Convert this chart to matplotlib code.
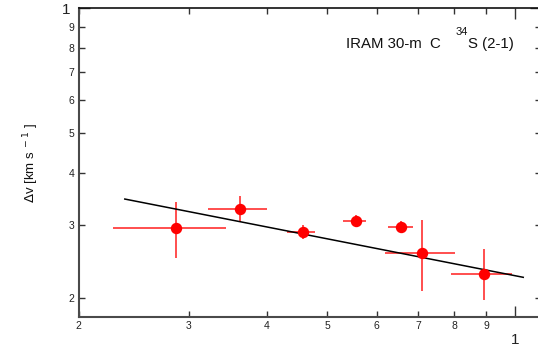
import matplotlib
matplotlib.use("Agg")
import matplotlib.pyplot as plt
import numpy as np

plt.rcParams['font.family'] = ['Liberation Sans', 'DejaVu Sans']

# Measurements: frequency-like abscissa vs. line width (km/s)
x_vals = [2.86, 3.62, 4.57, 5.56, 6.57, 7.10, 8.92]
x_lo = [2.27, 3.22, 4.31, 5.30, 6.27, 6.19, 7.90]
x_hi = [3.44, 4.01, 4.79, 5.77, 6.86, 8.01, 9.88]
dv_vals = [2.94, 3.27, 2.89, 3.07, 2.97, 2.57, 2.28]
dv_lo = [2.49, 3.05, 2.78, 2.98, 2.88, 2.08, 1.97]
dv_hi = [3.40, 3.52, 3.00, 3.17, 3.06, 3.09, 2.62]

# Power-law fit  dv = A * x^index
fit_norm = 4.47
fit_index = -0.296
fit_range = [2.37, 10.31]

x_minor_ticks = [2, 3, 4, 5, 6, 7, 8, 9]
x_minor_labels = ["2", "3", "4", "5", "6", "7", "8", "9"]
y_minor_ticks = [2, 3, 4, 5, 6, 7, 8, 9]
y_minor_labels = ["2", "3", "4", "5", "6", "7", "8", "9"]
major_tick = [10]
major_label = ["1"]

W, H = 538, 349
fig = plt.figure(figsize=(W / 100, H / 100), dpi=100)
ax = fig.add_axes([78.8 / W, 1 - 316.7 / H, (540.8 - 78.8) / W, (316.7 - 8.3) / H])
ax.set_xscale('log')
ax.set_yscale('log')
ax.set_xlim(2, 11)
ax.set_ylim(1.8, 10)

x = np.array(x_vals)
y = np.array(dv_vals)
xerr = np.vstack([x - np.array(x_lo), np.array(x_hi) - x])
yerr = np.vstack([y - np.array(dv_lo), np.array(dv_hi) - y])
ax.errorbar(x, y, xerr=xerr, yerr=yerr, fmt='none', ecolor='#ff4040',
            elinewidth=1.3, capsize=0, zorder=2)

xf = np.geomspace(fit_range[0], fit_range[1], 50)
ax.plot(xf, fit_norm * xf ** fit_index, color='black', lw=1.1, zorder=3)

ax.plot(x, y, 'o', color='#ff0000', ms=7.2, mec='#ff0000', zorder=4)

ax.set_xticks(major_tick, labels=major_label)
ax.set_xticks(x_minor_ticks, labels=x_minor_labels, minor=True)
ax.set_yticks(major_tick, labels=major_label)
ax.set_yticks(y_minor_ticks, labels=y_minor_labels, minor=True)

ax.tick_params(which='both', direction='in', top=True, right=True,
               color='#333333', labelcolor='#222222')
ax.tick_params(which='minor', length=4.5, width=1.0, labelsize=7.5, pad=3)
ax.tick_params(which='major', length=8, width=1.0, labelsize=11)
ax.tick_params(axis='x', which='major', pad=12)
ax.tick_params(axis='y', which='major', pad=6)

for side in ['left', 'bottom']:
    ax.spines[side].set_color('#4a4a4a')
    ax.spines[side].set_linewidth(1.5)
ax.spines['top'].set_color('#111111')
ax.spines['top'].set_linewidth(1.2)
ax.spines['right'].set_visible(False)

# Annotation: telescope and line
base = 1 - 48.3 / H
fig.text(346 / W, base, "IRAM 30-m", fontsize=10.8, ha='left', va='baseline', color='#111111')
fig.text(429.5 / W, base, "C", fontsize=10.8, ha='left', va='baseline', color='#111111')
fig.text(455.5 / W, 1 - 35 / H, "34", fontsize=8, ha='left', va='baseline', color='#111111')
fig.text(467.5 / W, base, "S (2-1)", fontsize=10.8, ha='left', va='baseline', color='#111111')

fig.text(31 / W, 1 - 163 / H, r"$\Delta$v [km s$^{\ -1}$ ]", fontsize=9.5, rotation=90,
         ha='center', va='center', color='#111111')

fig.savefig("out.png", dpi=100)
